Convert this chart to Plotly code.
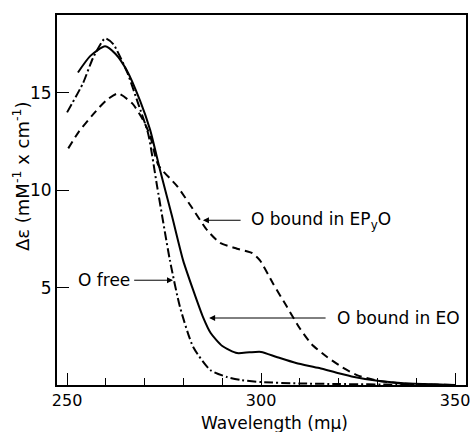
import plotly.graph_objects as go

# O bound in EO (solid)
eo_x = [252.8, 256, 259.8, 262.5, 265.4, 268.8, 271.4, 274, 277, 279.9, 282.5, 285, 287, 290, 293.8, 297, 300, 304, 309, 315, 320, 324, 330, 336, 342, 350]
eo_y = [16.05, 16.9, 17.4, 17.0, 16.15, 14.6, 13.1, 11.0, 8.7, 6.4, 4.87, 3.5, 2.67, 2.0, 1.64, 1.68, 1.7, 1.44, 1.13, 0.87, 0.6, 0.41, 0.22, 0.1, 0.05, 0.0]

# O bound in EPyO (dashed)
epyo_x = [250.3, 253, 256.7, 260, 263.1, 266.8, 269.6, 271.4, 273.5, 278.4, 282.2, 286.1, 289.4, 293.8, 297.7, 299.7, 303.1, 306.7, 310, 313, 317, 321, 324.7, 330, 336, 342, 350]
epyo_y = [12.15, 13.0, 13.9, 14.6, 14.97, 14.46, 13.6, 12.8, 11.3, 10.2, 9.1, 7.95, 7.3, 7.0, 6.77, 6.4, 5.2, 4.0, 2.9, 2.1, 1.44, 0.9, 0.51, 0.22, 0.08, 0.03, 0.0]

# O free (dash-dot)
free_x = [250, 254.1, 256.7, 259.8, 261.9, 265.5, 268.3, 270.9, 273.2, 276.5, 279.1, 282.5, 286.9, 291.2, 295, 300, 310, 320, 335, 350]
free_y = [14.0, 15.5, 16.8, 17.8, 17.5, 16.05, 14.46, 12.9, 10.2, 6.4, 4.0, 1.95, 0.77, 0.41, 0.25, 0.15, 0.08, 0.05, 0.02, 0.0]

x_ticks = [250, 300, 350]
y_ticks = [5, 10, 15]

FONT = "DejaVu Sans"

fig = go.Figure()
fig.add_trace(go.Scatter(x=eo_x, y=eo_y, mode="lines",
                         line=dict(color="black", width=2, shape="spline", smoothing=0.6)))
fig.add_trace(go.Scatter(x=epyo_x, y=epyo_y, mode="lines",
                         line=dict(color="black", width=2, dash="8px,5px", shape="spline", smoothing=0.6)))
fig.add_trace(go.Scatter(x=free_x, y=free_y, mode="lines",
                         line=dict(color="black", width=2, dash="9px,3px,2px,3px", shape="spline", smoothing=0.6)))

# arrows
arrows = [
    (277.3, 5.38, 266.9, 5.38),
    (285.0, 8.46, 295.1, 8.46),
    (286.6, 3.44, 317.0, 3.44),
]
for hx, hy, tx, ty in arrows:
    fig.add_annotation(x=hx, y=hy, ax=tx, ay=ty, xref="x", yref="y", axref="x", ayref="y",
                       text="", showarrow=True, arrowhead=2, arrowsize=1.2, arrowwidth=1, arrowcolor="black")

fig.add_annotation(x=266.6, y=5.38, text="O free", showarrow=False, xanchor="right", yanchor="middle",
                   font=dict(family=FONT, size=17, color="black"))
fig.add_annotation(x=297.0, y=8.46, text="O bound in EP<sub>y</sub>O", showarrow=False, xanchor="left", yanchor="middle",
                   font=dict(family=FONT, size=17, color="black"))
fig.add_annotation(x=319.0, y=3.44, text="O bound in EO", showarrow=False, xanchor="left", yanchor="middle",
                   font=dict(family=FONT, size=17, color="black"))

# axis titles as annotations (placed as in reference)
fig.add_annotation(x=-0.088, y=0.565, xref="paper", yref="paper", text="Δε (mM<sup>-1</sup> x cm<sup>-1</sup>)",
                   textangle=-90, showarrow=False, xanchor="center", yanchor="middle",
                   font=dict(family=FONT, size=18, color="black"))
fig.add_annotation(x=0.533, y=-0.102, xref="paper", yref="paper", text="Wavelength (mμ)",
                   showarrow=False, xanchor="center", yanchor="middle",
                   font=dict(family=FONT, size=17, color="black"))

fig.update_layout(
    width=470, height=432,
    margin=dict(l=57, r=4, t=15, b=47),
    paper_bgcolor="white", plot_bgcolor="white",
    showlegend=False,
    font=dict(family=FONT, size=16, color="black"),
    xaxis=dict(range=[247.4, 352.8], tickvals=x_ticks, ticks="inside", ticklen=12, tickwidth=1, tickcolor="black",
               showline=True, linecolor="black", linewidth=2, mirror=True, showgrid=False, zeroline=False,
               automargin=False, ticklabeloverflow="allow", ticklabelstandoff=0,
               minor=dict(dtick=10, tick0=250, ticks="inside", ticklen=7, tickwidth=1, tickcolor="black", showgrid=False),
               tickfont=dict(size=16)),
    yaxis=dict(range=[0, 19], tickvals=y_ticks, ticks="inside", ticklen=12, tickwidth=1, tickcolor="black",
               showline=True, linecolor="black", linewidth=2, mirror=True, showgrid=False, zeroline=False,
               automargin=False, ticklabeloverflow="allow",
               tickfont=dict(size=17)),
)

fig.write_html("out.html", config={"displayModeBar": False},
               post_script="document.body.style.margin='0';document.body.style.padding='0';")
